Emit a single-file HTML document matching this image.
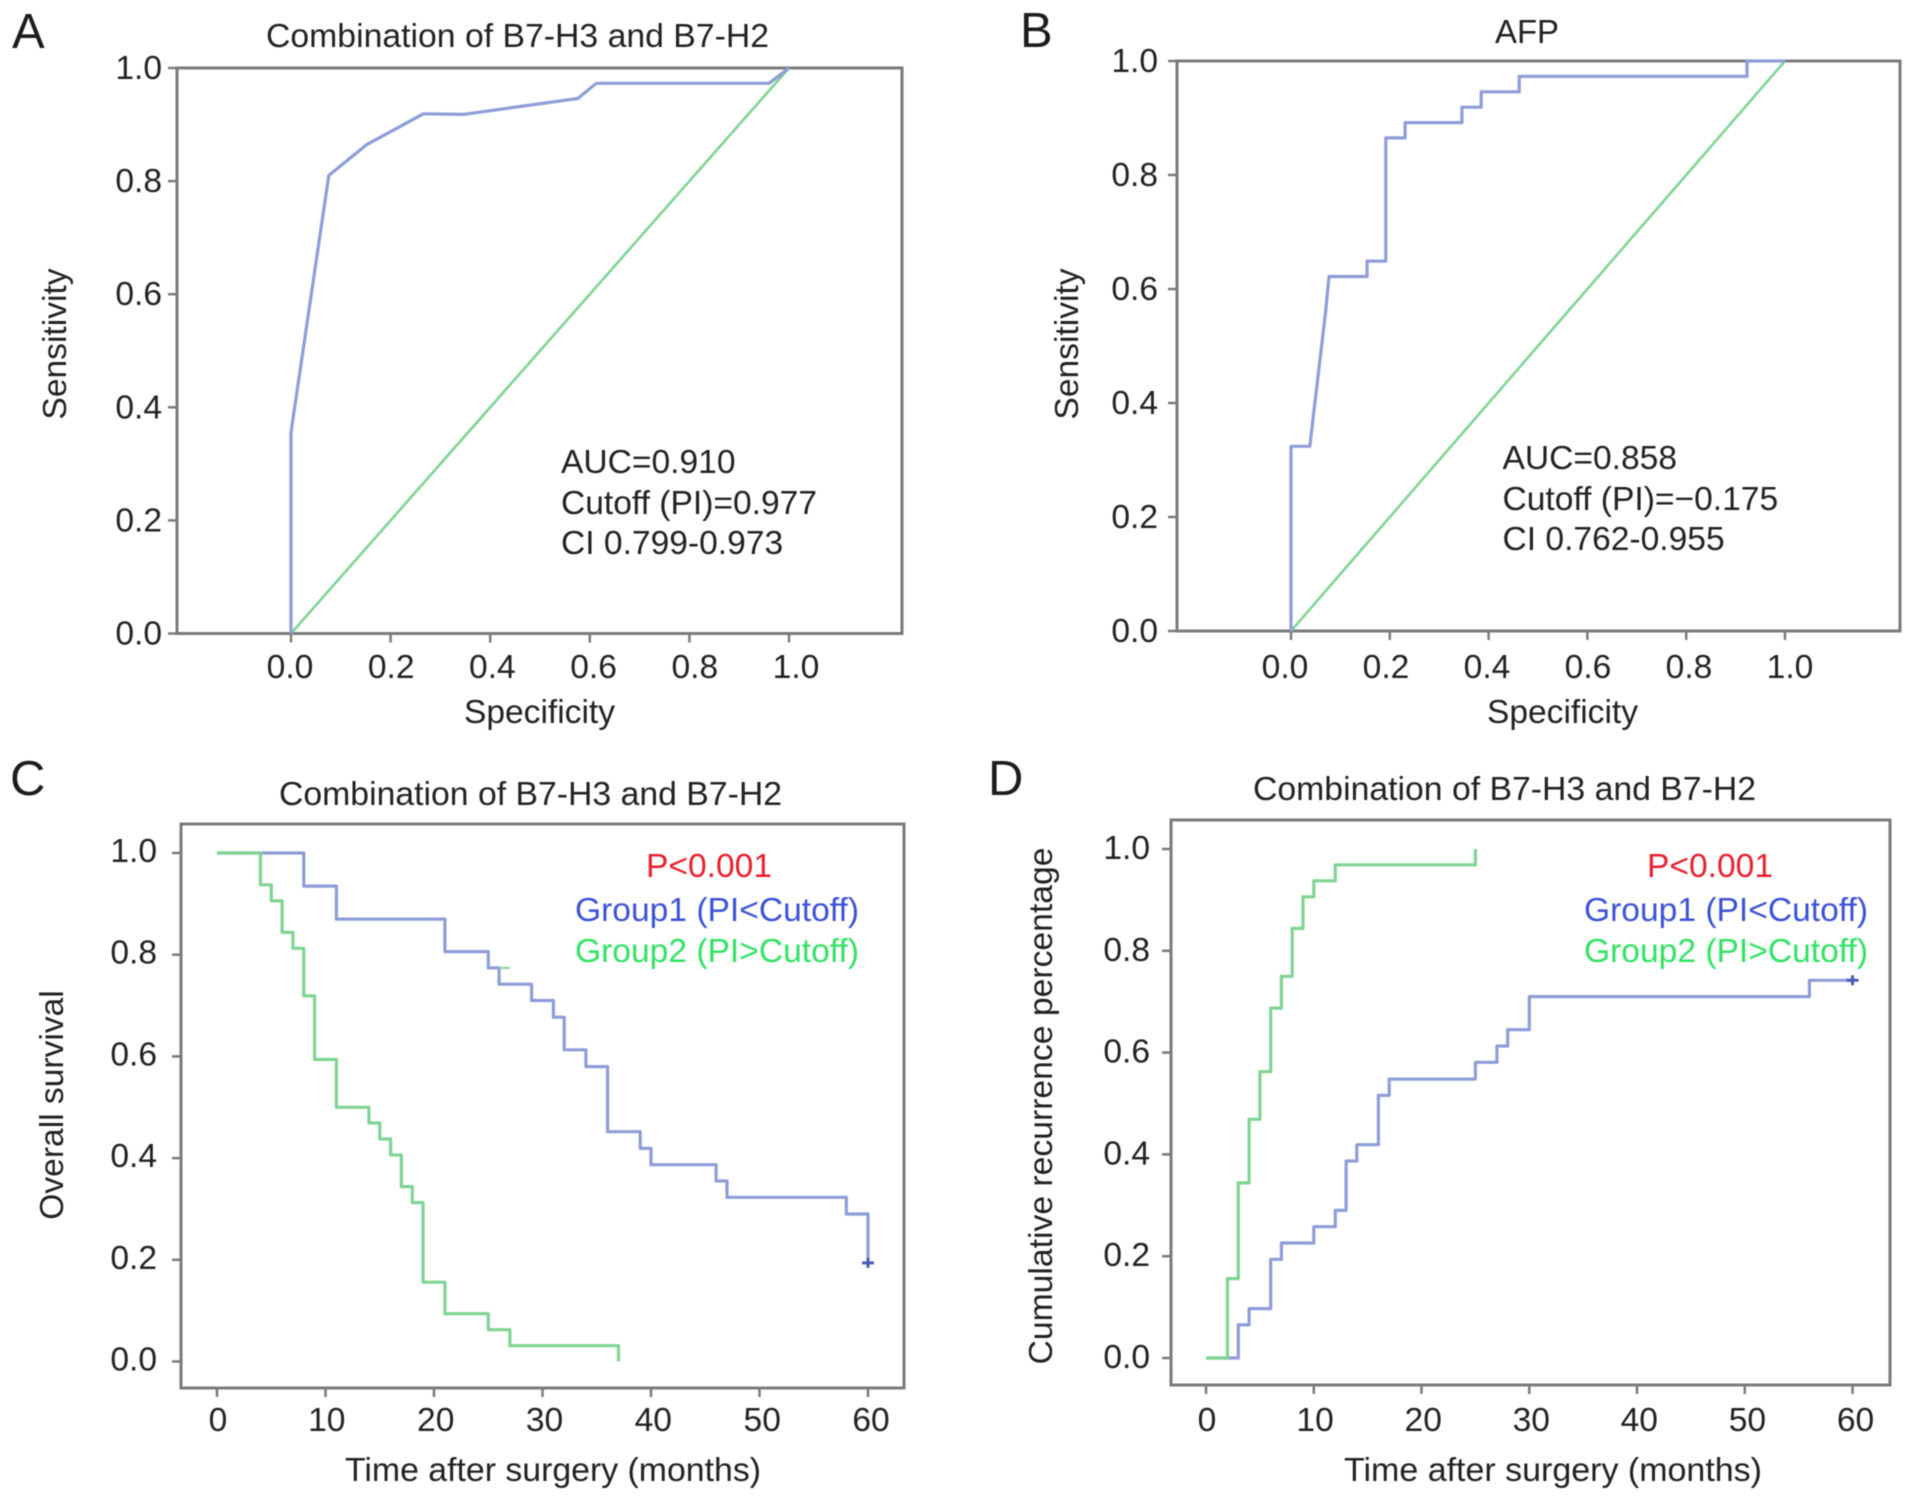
<!DOCTYPE html>
<html lang="en">
<head>
<meta charset="utf-8">
<title>ROC and survival curves</title>
<style>
html,body{margin:0;padding:0;background:#fff;}
svg{display:block;filter:blur(0.5px);}
text{font-family:"Liberation Sans",Arial,sans-serif;fill:#222222;font-size:33.6px;}
.panel-letter{font-size:49px;fill:#1c1c1c;}
</style>
</head>
<body>
<svg id="figure" width="1913" height="1502" viewBox="0 0 1913 1502" xmlns="http://www.w3.org/2000/svg">
  <rect width="1913" height="1502" fill="#ffffff"/>

  <text class="panel-letter" x="12" y="48">A</text>
  <text class="panel-letter" x="1020" y="47">B</text>
  <text class="panel-letter" x="10" y="795">C</text>
  <text class="panel-letter" x="988" y="795">D</text>

  <text x="266" y="47" textLength="503" lengthAdjust="spacingAndGlyphs">Combination of B7-H3 and B7-H2</text>
  <text x="1495" y="43" textLength="64" lengthAdjust="spacingAndGlyphs">AFP</text>
  <text x="279" y="805" textLength="503" lengthAdjust="spacingAndGlyphs">Combination of B7-H3 and B7-H2</text>
  <text x="1253" y="800" textLength="503" lengthAdjust="spacingAndGlyphs">Combination of B7-H3 and B7-H2</text>

  <text x="464" y="723" textLength="151" lengthAdjust="spacingAndGlyphs">Specificity</text>
  <text x="1487" y="723" textLength="151" lengthAdjust="spacingAndGlyphs">Specificity</text>
  <text x="345" y="1481" textLength="416" lengthAdjust="spacingAndGlyphs">Time after surgery (months)</text>
  <text x="1344" y="1481" textLength="418" lengthAdjust="spacingAndGlyphs">Time after surgery (months)</text>

  <text transform="translate(66,344) rotate(-90)" text-anchor="middle">Sensitivity</text>
  <text transform="translate(1078,344) rotate(-90)" text-anchor="middle">Sensitivity</text>
  <text transform="translate(63,1105) rotate(-90)" text-anchor="middle">Overall survival</text>
  <text transform="translate(1052,1106) rotate(-90)" text-anchor="middle" textLength="517" lengthAdjust="spacingAndGlyphs">Cumulative recurrence percentage</text>

  <g id="marks"></g>

  <g>
    <text x="561" y="473">AUC=0.910</text>
    <text x="561" y="514">Cutoff (PI)=0.977</text>
    <text x="561" y="554">CI 0.799-0.973</text>
  </g>
  <g>
    <text x="1502.5" y="469">AUC=0.858</text>
    <text x="1502.5" y="510">Cutoff (PI)=−0.175</text>
    <text x="1502.5" y="550">CI 0.762-0.955</text>
  </g>
  <g>
    <text x="646" y="877" style="fill:#e8202e">P&lt;0.001</text>
    <text x="575" y="921" style="fill:#3d52d6">Group1 (PI&lt;Cutoff)</text>
    <text x="575" y="962" style="fill:#33e264">Group2 (PI&gt;Cutoff)</text>
  </g>
  <g>
    <text x="1647" y="877" style="fill:#e8202e">P&lt;0.001</text>
    <text x="1584" y="921" style="fill:#3d52d6">Group1 (PI&lt;Cutoff)</text>
    <text x="1584" y="962" style="fill:#33e264">Group2 (PI&gt;Cutoff)</text>
  </g>
</svg>

<script>
// ---- Tick values and labels ----
const rocTicks = [0, 0.2, 0.4, 0.6, 0.8, 1];
const rocTickLabels = ["0.0", "0.2", "0.4", "0.6", "0.8", "1.0"];
const timeTicks = [0, 10, 20, 30, 40, 50, 60];
const timeTickLabels = ["0", "10", "20", "30", "40", "50", "60"];

// ---- Panel A: ROC, combination of B7-H3 and B7-H2 ----
const rocASpecificity = [0, 0, 0.076, 0.153, 0.266, 0.346, 0.576, 0.613, 0.96, 1];
const rocASensitivity = [0, 0.356, 0.81, 0.865, 0.919, 0.918, 0.946, 0.973, 0.973, 1];
const rocAReferenceX = [0, 1];
const rocAReferenceY = [0, 1];

// ---- Panel B: ROC, AFP ----
const rocBSpecificity = [0, 0, 0.038, 0.07, 0.077, 0.154, 0.154, 0.192, 0.192, 0.231, 0.231, 0.346, 0.346, 0.385, 0.385, 0.462, 0.462, 0.923, 0.923, 1];
const rocBSensitivity = [0, 0.324, 0.324, 0.56, 0.622, 0.622, 0.649, 0.649, 0.865, 0.865, 0.892, 0.892, 0.919, 0.919, 0.946, 0.946, 0.973, 0.973, 1, 1];
const rocBReferenceX = [0, 1];
const rocBReferenceY = [0, 1];

// ---- Panel C: overall survival ----
const osGroup1Months = [0, 8, 11, 21, 25, 26, 29, 31, 32, 34, 36, 39, 40, 46, 47, 58, 60];
const osGroup1Survival = [1, 0.935, 0.87, 0.806, 0.774, 0.742, 0.71, 0.677, 0.613, 0.58, 0.452, 0.419, 0.387, 0.355, 0.323, 0.29, 0.194];
const osGroup2Months = [0, 4, 5, 6, 7, 8, 9, 11, 14, 15, 16, 17, 18, 19, 21, 25, 27, 37];
const osGroup2Survival = [1, 0.9375, 0.906, 0.844, 0.8125, 0.719, 0.594, 0.5, 0.469, 0.4375, 0.406, 0.344, 0.3125, 0.156, 0.094, 0.0625, 0.031, 0];
const osStubMonths = [26, 27];
const osStubSurvival = [0.774, 0.774];
const osCensorMonths = [60];
const osCensorSurvival = [0.194];

// ---- Panel D: cumulative recurrence ----
const recGroup1Months = [0, 3, 4, 6, 7, 10, 12, 13, 14, 16, 17, 25, 27, 28, 30, 56, 60];
const recGroup1Rate = [0, 0.065, 0.097, 0.194, 0.226, 0.258, 0.29, 0.387, 0.419, 0.516, 0.548, 0.581, 0.613, 0.645, 0.71, 0.742, 0.742];
const recGroup2Months = [0, 2, 3, 4, 5, 6, 7, 8, 9, 10, 12, 25];
const recGroup2Rate = [0, 0.156, 0.344, 0.469, 0.5625, 0.6875, 0.75, 0.844, 0.906, 0.9375, 0.969, 1];
const recCensorMonths = [60];
const recCensorRate = [0.742];

const SVG_NS = "http://www.w3.org/2000/svg";
const root = document.getElementById("marks");
const BLUE = "#8e9dd8";
const GREEN = "#7fd493";
const FRAME = "#7a7a7a";

function scale(d0, d1, r0, r1) {
  return function (v) { return r0 + (v - d0) / (d1 - d0) * (r1 - r0); };
}

function drawPath(d, color, width, name) {
  const el = document.createElementNS(SVG_NS, "path");
  el.setAttribute("d", d);
  el.setAttribute("fill", "none");
  el.setAttribute("stroke", color);
  el.setAttribute("stroke-width", width);
  el.setAttribute("stroke-linejoin", "round");
  
  
  root.appendChild(el);
}

function linePath(xs, ys, X, Y) {
  return xs.map(function (v, i) { return (i ? "L" : "M") + X(v).toFixed(1) + " " + Y(ys[i]).toFixed(1); }).join("");
}

function stepPath(xs, ys, X, Y) {
  let d = "M" + X(xs[0]).toFixed(1) + " " + Y(ys[0]).toFixed(1);
  for (let i = 1; i < xs.length; i++) {
    d += "H" + X(xs[i]).toFixed(1) + "V" + Y(ys[i]).toFixed(1);
  }
  return d;
}

function drawLabel(str, x, y, anchor, name) {
  const el = document.createElementNS(SVG_NS, "text");
  el.setAttribute("x", x);
  el.setAttribute("y", y);
  el.setAttribute("text-anchor", anchor);
  el.textContent = str;
  
  
  root.appendChild(el);
}

function drawAxes(p, xTicks, xLabels, yTicks, yLabels) {
  const frame = document.createElementNS(SVG_NS, "rect");
  frame.setAttribute("x", p.left);
  frame.setAttribute("y", p.top);
  frame.setAttribute("width", p.right - p.left);
  frame.setAttribute("height", p.bottom - p.top);
  frame.setAttribute("fill", "none");
  frame.setAttribute("stroke", FRAME);
  frame.setAttribute("stroke-width", "3");
  
  
  root.appendChild(frame);

  xTicks.forEach(function (v, i) {
    const px = p.X(v);
    drawPath("M" + px.toFixed(1) + " " + p.bottom + "V" + (p.bottom + 9), FRAME, 2.5, p.id + "-x-tick");
    const t = i / (xTicks.length - 1);
    drawLabel(xLabels[i], (px + p.xShift0 + t * p.xShift1).toFixed(1), p.xLabelY, "middle", p.id + "-x-tick-label");
  });
  yTicks.forEach(function (v, i) {
    const py = p.Y(v);
    drawPath("M" + p.left + " " + py.toFixed(1) + "H" + (p.left - 9), FRAME, 2.5, p.id + "-y-tick");
    drawLabel(yLabels[i], p.yLabelX, (py + p.yLabelDy).toFixed(1), "end", p.id + "-y-tick-label");
  });
}

function drawCensor(x, y, color, name) {
  const d = "M" + (x - 6).toFixed(1) + " " + y.toFixed(1) + "H" + (x + 6).toFixed(1) +
            "M" + x.toFixed(1) + " " + (y - 5).toFixed(1) + "V" + (y + 5).toFixed(1);
  drawPath(d, color, 3, name);
}

// Panel A
const panelA = { id: "panel-a", left: 177, right: 902, top: 68, bottom: 633.5,
  X: scale(0, 1, 291, 789), Y: scale(0, 1, 633.5, 68),
  xShift0: -1, xShift1: 8, xLabelY: 678, yLabelX: 162, yLabelDy: 11 };
drawAxes(panelA, rocTicks, rocTickLabels, rocTicks, rocTickLabels);
drawPath(linePath(rocAReferenceX, rocAReferenceY, panelA.X, panelA.Y), GREEN, 2.6, "panel-a-reference-line");
drawPath(linePath(rocASpecificity, rocASensitivity, panelA.X, panelA.Y), BLUE, 3.2, "panel-a-roc-curve");

// Panel B
const panelB = { id: "panel-b", left: 1177, right: 1900, top: 61, bottom: 631,
  X: scale(0, 1, 1291, 1785), Y: scale(0, 1, 631, 61),
  xShift0: -6, xShift1: 11, xLabelY: 678, yLabelX: 1158, yLabelDy: 11 };
drawAxes(panelB, rocTicks, rocTickLabels, rocTicks, rocTickLabels);
drawPath(linePath(rocBReferenceX, rocBReferenceY, panelB.X, panelB.Y), GREEN, 2.6, "panel-b-reference-line");
drawPath(linePath(rocBSpecificity, rocBSensitivity, panelB.X, panelB.Y), BLUE, 3.2, "panel-b-roc-curve");

// Panel C
const panelC = { id: "panel-c", left: 181, right: 904, top: 824, bottom: 1388,
  X: scale(0, 60, 217, 868), Y: scale(0, 1, 1361.5, 853),
  xShift0: 1, xShift1: 2, xLabelY: 1431, yLabelX: 157, yLabelDy: 9 };
drawAxes(panelC, timeTicks, timeTickLabels, rocTicks, rocTickLabels);
drawPath(stepPath(osGroup1Months, osGroup1Survival, panelC.X, panelC.Y), BLUE, 3.2, "panel-c-group1-curve");
drawPath(stepPath(osGroup2Months, osGroup2Survival, panelC.X, panelC.Y), GREEN, 3.2, "panel-c-group2-curve");
drawPath(linePath(osStubMonths, osStubSurvival, panelC.X, panelC.Y), GREEN, 2, "panel-c-group2-fragment");
osCensorMonths.forEach(function (m, i) {
  drawCensor(panelC.X(m), panelC.Y(osCensorSurvival[i]), "#4a5bb8", "panel-c-censor-mark");
});

// Panel D
const panelD = { id: "panel-d", left: 1171, right: 1890, top: 820, bottom: 1385,
  X: scale(0, 60, 1206, 1852.5), Y: scale(0, 1, 1358, 849),
  xShift0: 1, xShift1: 2, xLabelY: 1431, yLabelX: 1150, yLabelDy: 10 };
drawAxes(panelD, timeTicks, timeTickLabels, rocTicks, rocTickLabels);
drawPath(stepPath(recGroup1Months, recGroup1Rate, panelD.X, panelD.Y), BLUE, 3.2, "panel-d-group1-curve");
drawPath(stepPath(recGroup2Months, recGroup2Rate, panelD.X, panelD.Y), GREEN, 3.2, "panel-d-group2-curve");
recCensorMonths.forEach(function (m, i) {
  drawCensor(panelD.X(m), panelD.Y(recCensorRate[i]), "#4a5bb8", "panel-d-censor-mark");
});
</script>
</body>
</html>
